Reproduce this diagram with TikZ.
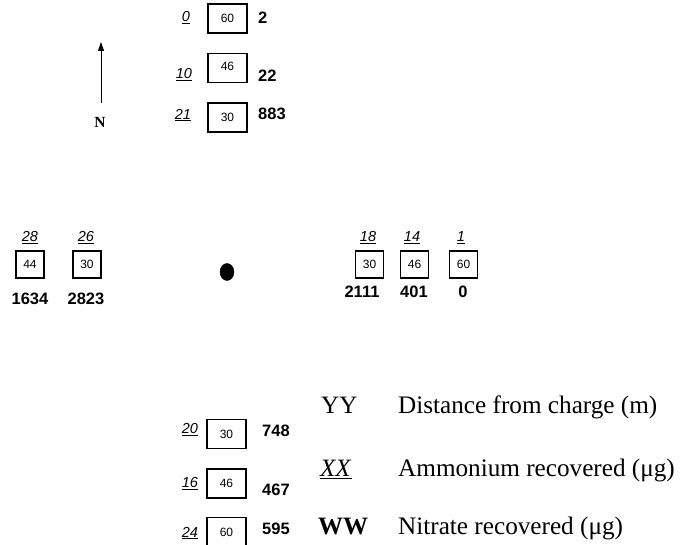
\documentclass[tikz,border=0pt]{standalone}
\usepackage{fontspec}
\setmainfont{Liberation Serif}
\newfontfamily\arialf{Liberation Sans}
\usetikzlibrary{arrows.meta,shapes.geometric}
\tikzset{
  bigbox/.style={draw, line width=1.2pt, minimum width=39pt, minimum height=29pt, inner sep=0pt, font=\arialf\fontsize{12}{12}\selectfont},
  smallbox/.style={draw, line width=1.2pt, minimum width=28pt, minimum height=27pt, inner sep=0pt, font=\arialf\fontsize{12}{12}\selectfont},
  dist/.style={inner sep=0pt, font=\arialf\fontsize{14.5}{14.5}\selectfont},
  nitr/.style={inner sep=0pt, font=\arialf\bfseries\fontsize{16.5}{16.5}\selectfont},
  legk/.style={inner sep=0pt, anchor=base west, font=\fontsize{25}{25}\selectfont},
  legt/.style={inner sep=0pt, anchor=base west, font=\fontsize{25.2}{25.2}\selectfont},
}
\newcommand{\ul}[1]{\underline{\textit{#1}}}
\begin{document}
\begin{tikzpicture}[x=1pt,y=-1pt]
\useasboundingbox (0,0) rectangle (689,545);
\clip (0,0) rectangle (689,545);
% north arrow
\coordinate (arrS) at (101,103);
\coordinate (arrT) at (101,42);
\draw[line width=1pt, -{Triangle[length=9pt,width=6pt]}] (arrS) -- (arrT);
\node[inner sep=0pt, font=\bfseries\fontsize{15.5}{15.5}\selectfont] (N) at (100,122) {N};
% charge
\node[draw, fill=black, ellipse, minimum width=14pt, minimum height=17pt, inner sep=0pt] (charge) at (227,272) {};
% top column
\node[bigbox] (t1) at (227.5,18.5) {60};
\node[bigbox] (t2) at (227.5,68) {\raisebox{3pt}{46}};
\node[bigbox] (t3) at (227.5,117.5) {30};
\node[dist] (t1d) at (186,18) {\ul{0}};
\node[dist] (t2d) at (184,75) {\ul{10}};
\node[dist] (t3d) at (183,115) {\ul{21}};
\node[nitr, anchor=west] (t1n) at (258,17.5) {2};
\node[nitr, anchor=west] (t2n) at (258,75.5) {22};
\node[nitr, anchor=west] (t3n) at (258,114) {883};
% left row
\node[smallbox] (l1) at (30,264.5) {44};
\node[smallbox] (l2) at (87,264.5) {30};
\node[dist] (l1d) at (30,238) {\ul{28}};
\node[dist] (l2d) at (86,238) {\ul{26}};
\node[nitr] (l1n) at (30,299) {1634};
\node[nitr] (l2n) at (86,299) {2823};
% right row
\node[smallbox] (r1) at (369.5,264.5) {30};
\node[smallbox] (r2) at (414.5,264.5) {46};
\node[smallbox] (r3) at (463.5,264.5) {60};
\node[dist] (r1d) at (368,238) {\ul{18}};
\node[dist] (r2d) at (412,238) {\ul{14}};
\node[dist] (r3d) at (461,238) {\ul{1}};
\node[nitr] (r1n) at (362,292) {2111};
\node[nitr] (r2n) at (414,292) {401};
\node[nitr] (r3n) at (463,292) {0};
% bottom column
\node[bigbox] (b1) at (226.5,434) {30};
\node[bigbox] (b2) at (226.5,483.5) {46};
\node[bigbox] (b3) at (226.5,532) {60};
\node[dist] (b1d) at (190,430) {\ul{20}};
\node[dist] (b2d) at (190,484) {\ul{16}};
\node[dist] (b3d) at (190,533) {\ul{24}};
\node[nitr, anchor=west] (b1n) at (262,431) {748};
\node[nitr, anchor=west] (b2n) at (262,490) {467};
\node[nitr, anchor=west] (b3n) at (262,529) {595};
% legend
\node[legk] (k1) at (321,414) {YY};
\node[legk] (k2) at (320,477) {\underline{\textit{XX}}};
\node[legk] (k3) at (318,535) {\textbf{WW}};
\node[legt] (e1) at (398,414) {Distance from charge (m)};
\node[legt] (e2) at (398,477) {Ammonium recovered (μg)};
\node[legt] (e3) at (398,535) {Nitrate recovered (μg)};
\end{tikzpicture}
\end{document}
